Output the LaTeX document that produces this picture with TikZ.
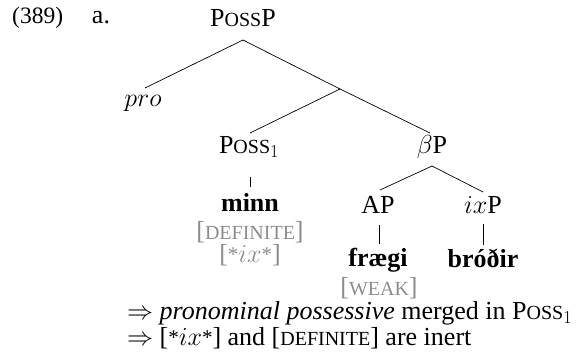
\RequirePackage{fix-cm}
\documentclass[tikz,border=0pt]{standalone}
\usepackage{fontspec}
\setmainfont{Liberation Serif}
\newcommand\smc[1]{{\fontsize{20}{24}\selectfont #1}}
\newcommand\myast{{\fontsize{21}{24}\selectfont\raisebox{1pt}{*}}}
\begin{document}
\begin{tikzpicture}[x=1pt,y=-1pt,
  every node/.style={inner sep=0pt,font=\fontsize{26}{30}\selectfont},
  feat/.style={text=black!45},
  br/.style={line width=0.7pt}]
\useasboundingbox (0,0) rectangle (588,358);
\node[anchor=west,font=\fontsize{23.5}{28}\selectfont] (num) at (12,18) {(389)};
\node (a) at (101,18) {a.};
\node (possp) at (243,18) {P\smc{OSS}P};
\node (pro) at (143,103) {$pro$};
\coordinate (xbar) at (340,89);
\node (poss1) at (249,147) {P\smc{OSS}$_1$};
\node (betap) at (432,147) {$\beta$P};
\node (minn) at (250,202) {\textbf{minn}};
\node[feat] (def) at (250,232) {[\smc{DEFINITE}]};
\node[feat] (ix) at (250,255) {[\myast$ix$\myast]};
\node (ap) at (378,205) {AP};
\node (ixp) at (483,205) {$ix$P};
\node (fraegi) at (378,260) {\textbf{frægi}};
\node (brodir) at (483,258) {\textbf{bróðir}};
\node[feat] (weak) at (379,288) {[\smc{WEAK}]};
\node[anchor=west] (l1) at (127,313.5) {$\Rightarrow$ \textit{pronominal possessive} merged in P\smc{OSS}$_1$};
\node[anchor=west] (l2) at (127,338) {$\Rightarrow$ [\myast$ix$\myast] and [\smc{DEFINITE}] are inert};
\draw[br] ([xshift=2pt,yshift=15pt]pro.center) -- ([yshift=-22pt]possp.center) -- (xbar) -- ([xshift=-2pt,yshift=14pt]betap.center);
\draw[br] (xbar) -- ([xshift=1pt,yshift=14pt]poss1.center);
\draw[br] ([xshift=1pt,yshift=-30pt]poss1.center) -- ([yshift=15pt]minn.center);
\draw[br] ([xshift=2pt,yshift=15pt]ap.center) -- ([yshift=-19pt]betap.center) -- ([yshift=13pt]ixp.center);
\draw[br] ([xshift=1pt,yshift=-20pt]ap.center) -- ([xshift=1pt,yshift=16pt]fraegi.center);
\draw[br] ([yshift=-19pt]ixp.center) -- ([yshift=13pt]brodir.center);
\end{tikzpicture}
\end{document}
